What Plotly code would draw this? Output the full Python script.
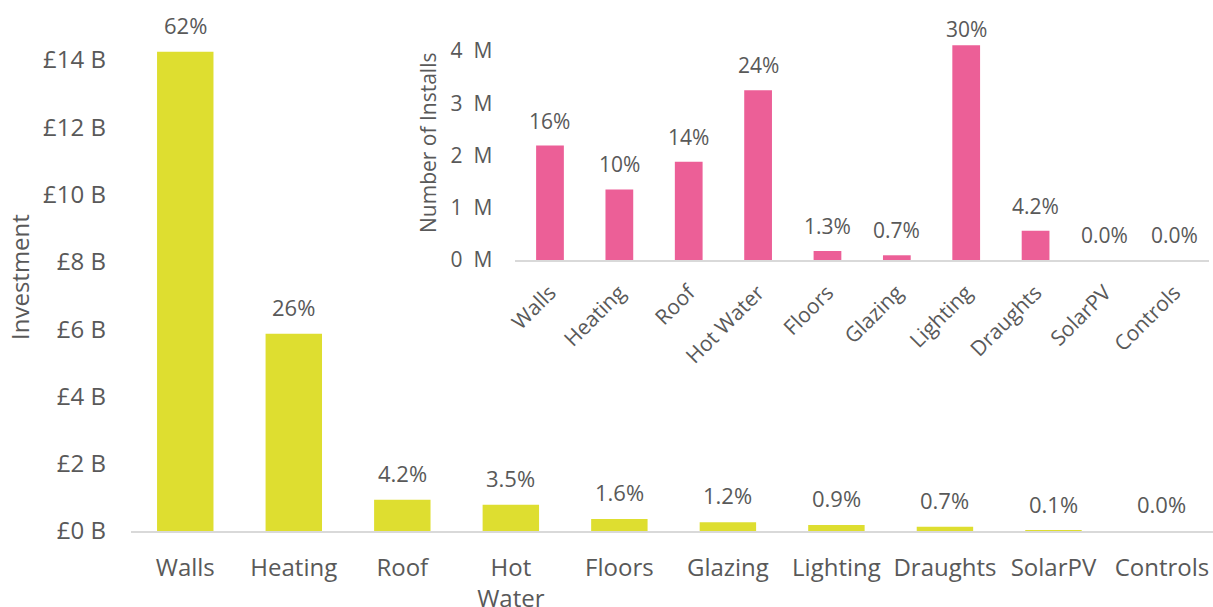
import plotly.graph_objects as go

# Investment by measure (£ billions) and share of total investment
categories = ["Walls", "Heating", "Roof", "Hot Water", "Floors",
              "Glazing", "Lighting", "Draughts", "SolarPV", "Controls"]
main_tick_labels = ["Walls", "Heating", "Roof", "Hot<br>Water", "Floors",
                    "Glazing", "Lighting", "Draughts", "SolarPV", "Controls"]
investment_bn = [14.24, 5.86, 0.93, 0.78, 0.36, 0.26, 0.18, 0.13, 0.01, 0.0]
investment_share = ["62%", "26%", "4.2%", "3.5%", "1.6%",
                    "1.2%", "0.9%", "0.7%", "0.1%", "0.0%"]

# Number of installs by measure (millions) and share of installs
installs_m = [2.19, 1.35, 1.88, 3.25, 0.17, 0.09, 4.11, 0.56, 0.0, 0.0]
installs_share = ["16%", "10%", "14%", "24%", "1.3%",
                  "0.7%", "30%", "4.2%", "0.0%", "0.0%"]

invest_ticks = [0, 2, 4, 6, 8, 10, 12, 14]
install_ticks = [0, 1, 2, 3, 4]

FONT = "Open Sans"
TXT = "#595959"
YELLOW = "#DEDE30"
PINK = "#EC5F97"
AXIS = "#D9D9D9"

W, H = 1213, 607
ML, MR, MT, MB = 131, 0, 0, 76
plot_w = W - ML - MR
plot_h = H - MT - MB

main_ymax = 15.78
inset_dom_y = [0.5104, 0.9623]
inset_ymax = 4.593
inset_px_per_unit = (inset_dom_y[1] - inset_dom_y[0]) * plot_h / inset_ymax

fig = go.Figure()

fig.add_trace(go.Bar(
    x=categories, y=investment_bn, marker=dict(color=YELLOW, line=dict(width=0)),
    width=0.52, xaxis="x", yaxis="y", hoverinfo="skip",
))
fig.add_trace(go.Bar(
    x=categories, y=installs_m, marker=dict(color=PINK, line=dict(width=0)),
    width=0.40, xaxis="x2", yaxis="y2", hoverinfo="skip",
))

annotations = []
for cat, v, s in zip(categories, investment_bn, investment_share):
    annotations.append(dict(
        x=cat, y=v, xref="x", yref="y", text=s, showarrow=False,
        yanchor="middle", yshift=27, font=dict(family=FONT, size=22, color=TXT),
    ))

# inset labels sit above their bar but stay inside the inset area
label_cap = inset_ymax - 9 / inset_px_per_unit
for cat, v, s in zip(categories, installs_m, installs_share):
    shift = min(25, (label_cap - v) * inset_px_per_unit)
    annotations.append(dict(
        x=cat, y=v, xref="x2", yref="y2", text=s, showarrow=False,
        yanchor="middle", yshift=shift, font=dict(family=FONT, size=21, color=TXT),
    ))

annotations.append(dict(
    x=-(ML - 19) / plot_w, y=(531 - 277) / plot_h, xref="paper", yref="paper",
    text="Investment", textangle=-90, showarrow=False,
    xanchor="center", yanchor="middle", font=dict(family=FONT, size=24, color=TXT),
))
annotations.append(dict(
    x=(428 - ML) / plot_w, y=(531 - 143) / plot_h, xref="paper", yref="paper",
    text="Number of Installs", textangle=-90, showarrow=False,
    xanchor="center", yanchor="middle", font=dict(family=FONT, size=21, color=TXT),
))

fig.update_layout(
    width=W, height=H,
    margin=dict(l=ML, r=MR, t=MT, b=MB, autoexpand=False),
    paper_bgcolor="white", plot_bgcolor="rgba(0,0,0,0)",
    showlegend=False,
    font=dict(family=FONT, color=TXT),
    annotations=annotations,
    xaxis=dict(
        domain=[0, 1], range=[-0.5, 9.47], type="category", automargin=False,
        tickmode="array", tickvals=categories, ticktext=main_tick_labels,
        showline=True, linecolor=AXIS, linewidth=2, showgrid=False, zeroline=False,
        ticks="", ticklabelstandoff=14, tickfont=dict(family=FONT, size=24, color=TXT),
    ),
    yaxis=dict(
        domain=[0, 1], range=[0, main_ymax], automargin=False,
        tickmode="array", tickvals=invest_ticks,
        ticktext=[f"£{v} B" for v in invest_ticks],
        showline=False, showgrid=False, zeroline=False,
        ticks="", ticklabelstandoff=24, tickfont=dict(family=FONT, size=24, color=TXT),
    ),
    xaxis2=dict(
        domain=[(515.3 - ML) / plot_w, (1209 - ML) / plot_w], range=[-0.5, 9.5],
        type="category", anchor="y2", automargin=False,
        showline=True, linecolor=AXIS, linewidth=2, showgrid=False, zeroline=False,
        ticks="", tickangle=-45, ticklabelstandoff=10,
        tickfont=dict(family=FONT, size=21, color=TXT),
    ),
    yaxis2=dict(
        domain=inset_dom_y, range=[0, inset_ymax], anchor="x2", automargin=False,
        tickmode="array", tickvals=install_ticks,
        ticktext=[f"{v}\u00a0\u00a0M" for v in install_ticks],
        showline=False, showgrid=False, zeroline=False,
        ticks="", ticklabelstandoff=22, tickfont=dict(family=FONT, size=21, color=TXT),
    ),
)

fig.write_html("out.html")
